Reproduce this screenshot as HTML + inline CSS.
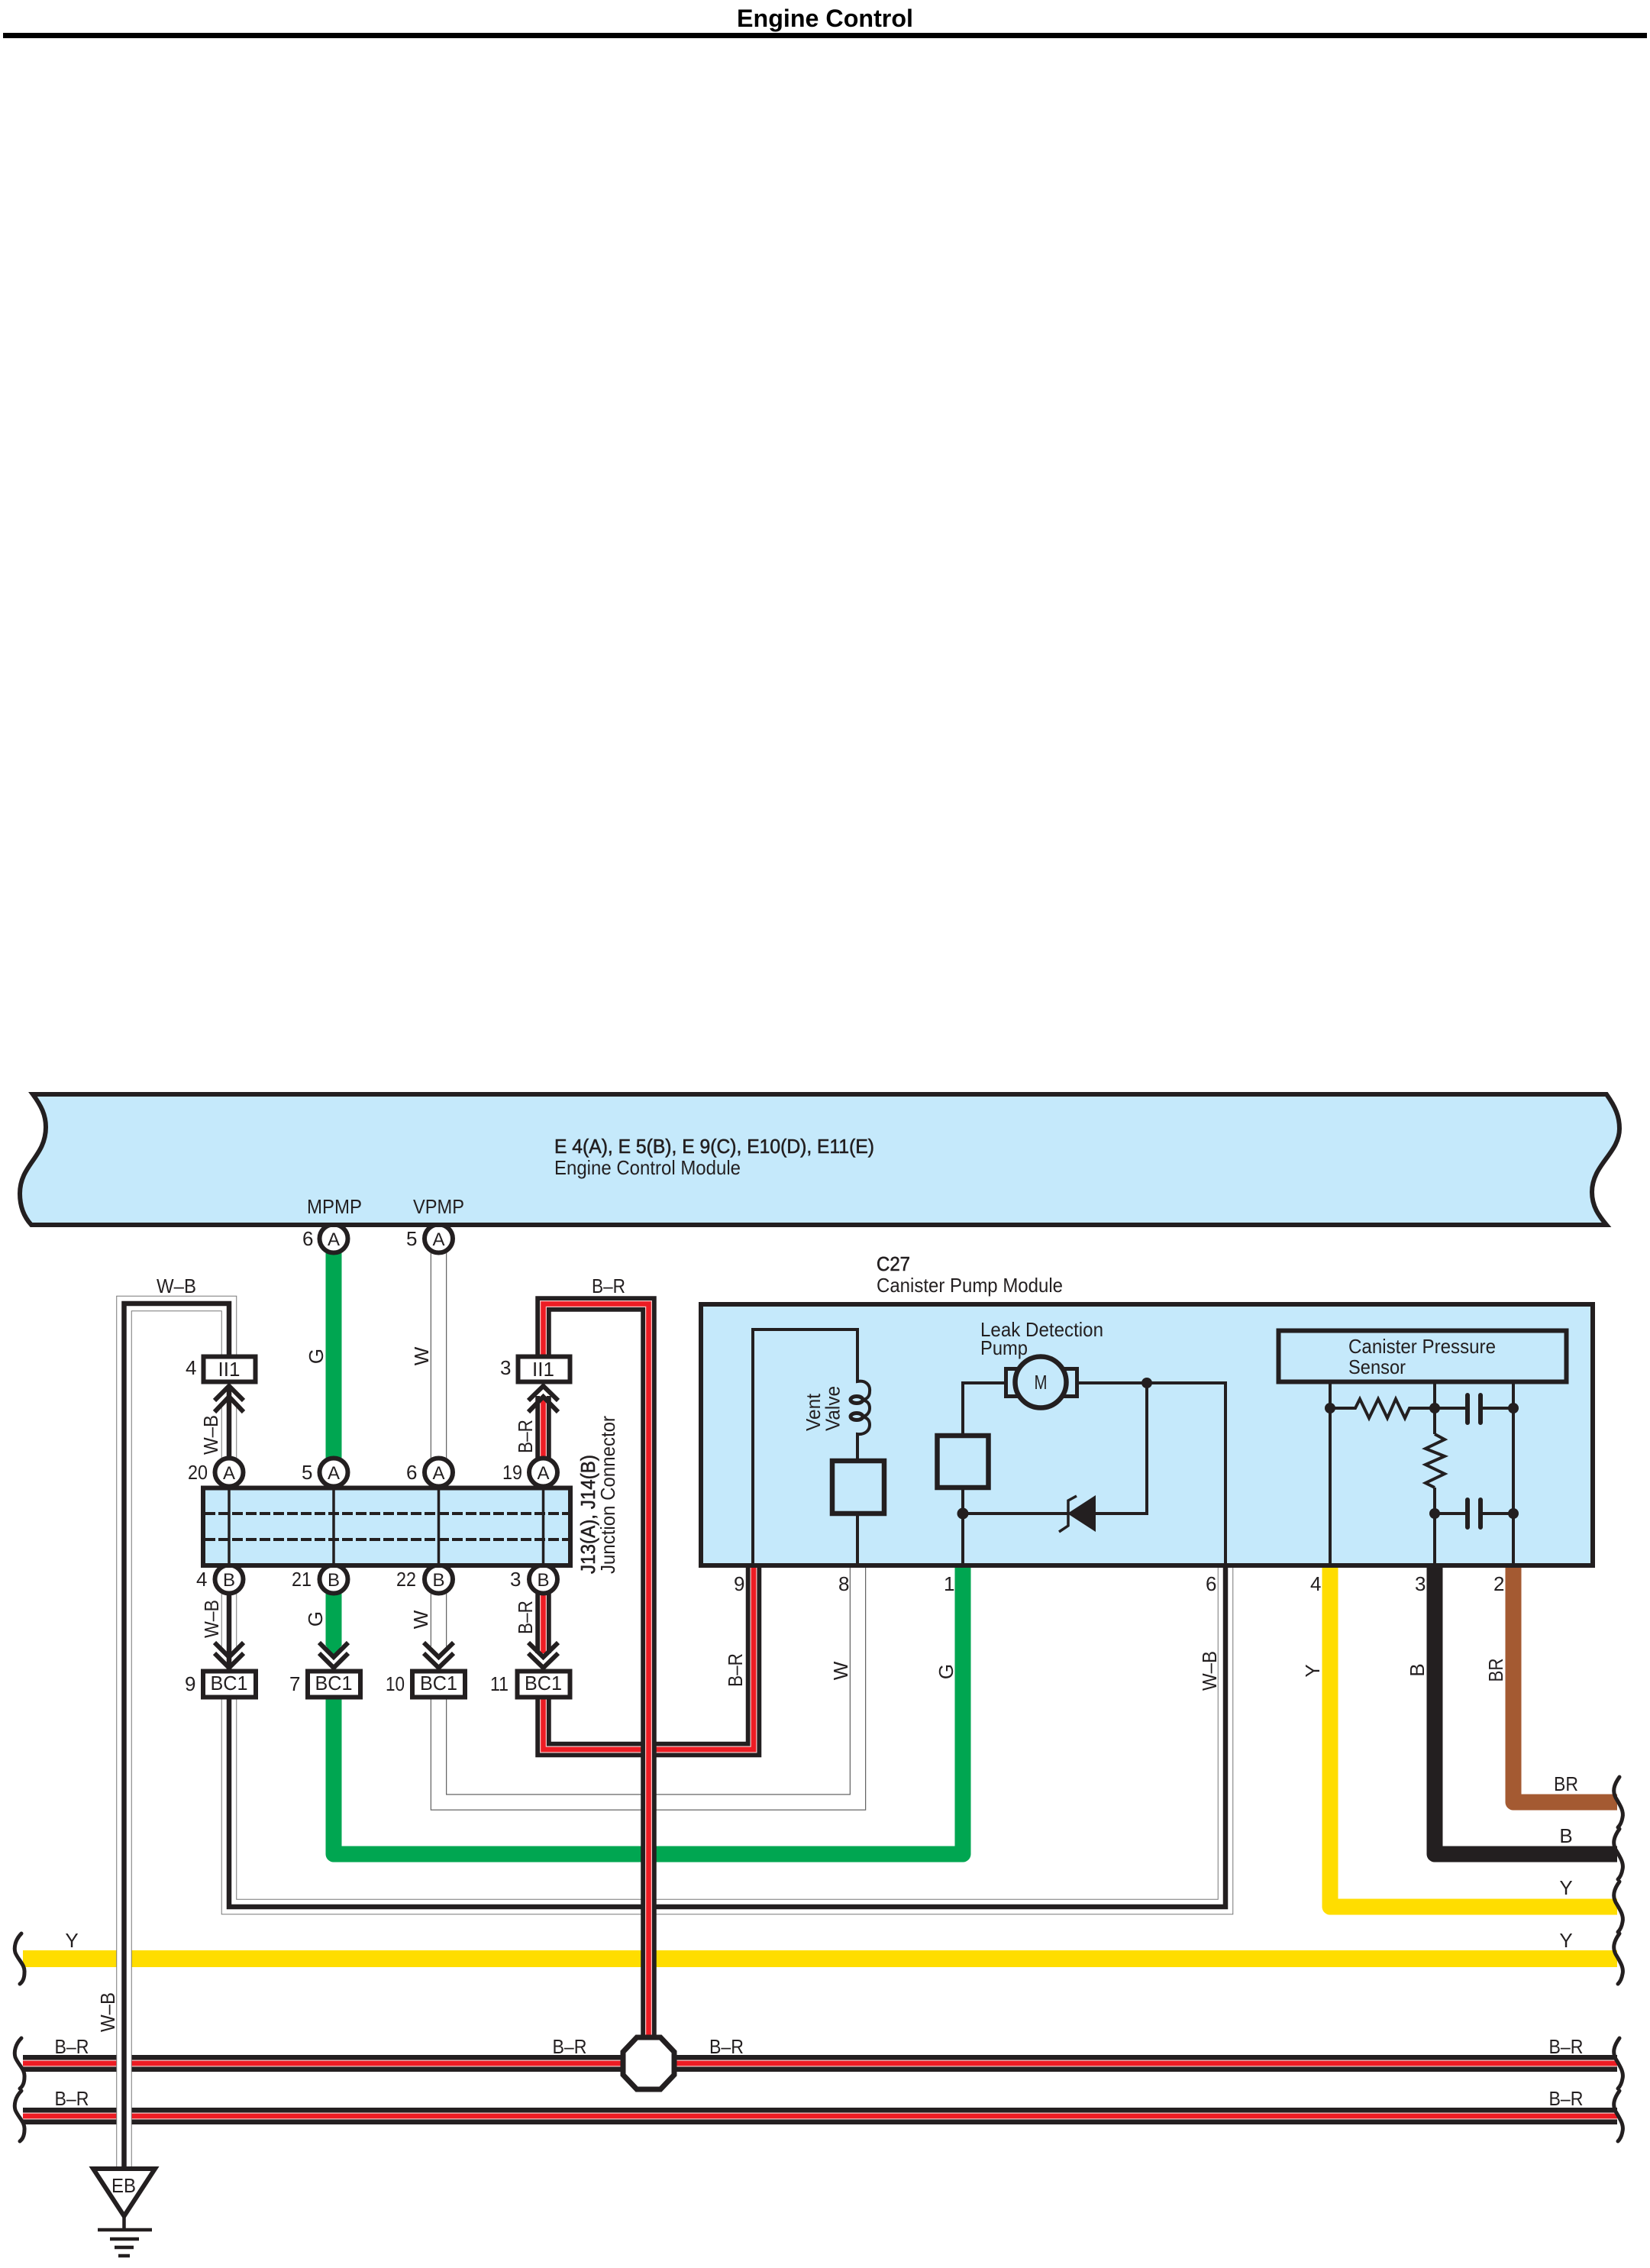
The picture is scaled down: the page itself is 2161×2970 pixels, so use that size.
<!DOCTYPE html>
<html><head><meta charset="utf-8"><title>Engine Control</title>
<style>
html,body{margin:0;padding:0;background:#fff}
svg{display:block}
text{font-family:"Liberation Sans",Arial,sans-serif;font-size:26px;fill:#231f20}
.b{stroke:#231f20;stroke-width:.6px}
.n{fill:none;stroke:#231f20;stroke-miterlimit:10}
.m{text-anchor:middle}
</style></head><body>
<svg xmlns="http://www.w3.org/2000/svg" width="2161" height="2970" viewBox="0 0 2161 2970">
<rect width="2161" height="2970" fill="#fff"/>
<text x="965" y="35" textLength="231" lengthAdjust="spacingAndGlyphs" style="font-size:32px;font-weight:bold;fill:#000">Engine Control</text>
<rect x="4" y="43" width="2153" height="7" fill="#000"/>

<!-- buses -->
<path d="M30 2565H2118" fill="none" stroke="#ffdd00" stroke-width="22"/>
<g fill="none">
<path d="M30 2702H2118" stroke="#231f20" stroke-width="22"/><path d="M30 2702H2118" stroke="#f5c6c6" stroke-width="9"/><path d="M30 2702H2118" stroke="#ed1c24" stroke-width="6.5"/>
<path d="M30 2771H2118" stroke="#231f20" stroke-width="22"/><path d="M30 2771H2118" stroke="#f5c6c6" stroke-width="9"/><path d="M30 2771H2118" stroke="#ed1c24" stroke-width="6.5"/>
</g>
<!-- Sensor wires -->
<g fill="none" stroke-width="21" stroke-linejoin="round">
<path d="M1742 2050V2497H2118" stroke="#ffdd00"/>
<path d="M1879 2050V2428H2118" stroke="#231f20"/>
<path d="M1982 2050V2360H2118" stroke="#a45a32"/>
<!-- Green -->
<path d="M437 1640V1930M437 2066V2155M437 2222V2428H1261V2050" stroke="#00a651"/>
</g>
<polygon points="427,2155 447,2155 437,2170" fill="#00a651"/>
<!-- W -->
<g fill="none" stroke-linejoin="miter">
<path d="M574.5 1640V1930M574.5 2066V2156M574.5 2222V2360H1123.5V2050" stroke="#666" stroke-width="21.5"/>
<path d="M574.5 1630V1940M574.5 2060V2160M574.5 2215V2360H1123.5V2040" stroke="#fff" stroke-width="19"/>
<!-- W-B -->
<path d="M300 2222V2497H1605V2050" stroke="#777" stroke-width="20.5"/>
<path d="M300 2215V2497H1605V2040" stroke="#fff" stroke-width="18.5"/>
<path d="M300 2222V2497H1605V2050" stroke="#231f20" stroke-width="6.5"/>
<path d="M300 2066V2158" stroke="#777" stroke-width="20.5"/>
<path d="M300 2060V2165" stroke="#fff" stroke-width="18.5"/>
<path d="M300 2066V2186" stroke="#231f20" stroke-width="6.5"/>
<path d="M300 1930V1843" stroke="#777" stroke-width="20.5"/>
<path d="M300 1935V1836" stroke="#fff" stroke-width="18.5"/>
<path d="M300 1930V1815" stroke="#231f20" stroke-width="6.5"/>
<path d="M300 1776V1707H162.5V2840" stroke="#777" stroke-width="20.5"/>
<path d="M300 1780V1707H162.5V2840" stroke="#fff" stroke-width="18.5"/>
<path d="M300 1776V1707H162.5V2840" stroke="#231f20" stroke-width="6.5"/>
<!-- B-R -->
<path d="M711.5 1930V1828M711.5 2066V2165M711.5 2222V2291H987V2050" stroke="#231f20" stroke-width="20.5"/>
<path d="M711.5 1930V1828M711.5 2066V2165M711.5 2222V2291H987V2050" stroke="#f5c6c6" stroke-width="9"/>
<path d="M711.5 1930V1828M711.5 2066V2165M711.5 2222V2291H987V2050" stroke="#ed1c24" stroke-width="6.5"/>
<path d="M711.5 1776V1707.5H849.5V2690" stroke="#231f20" stroke-width="20.5"/>
<path d="M711.5 1776V1707.5H849.5V2690" stroke="#f5c6c6" stroke-width="9"/>
<path d="M711.5 1776V1707.5H849.5V2690" stroke="#ed1c24" stroke-width="6.5"/>
</g>
<!-- Octagon -->
<polygon points="834,2668 865,2668 883,2687 883,2717 865,2736 834,2736 816,2717 816,2687" fill="#fff" stroke="#231f20" stroke-width="7"/>

<!-- pins -->
<g fill="#fff" stroke="#231f20" stroke-width="6">
<circle cx="437" cy="1622" r="18.5"/><circle cx="574.5" cy="1622" r="18.5"/>
<circle cx="300" cy="1928" r="18.5"/><circle cx="437" cy="1928" r="18.5"/><circle cx="574.5" cy="1928" r="18.5"/><circle cx="711.5" cy="1928" r="18.5"/>
<circle cx="300" cy="2068" r="18.5"/><circle cx="437" cy="2068" r="18.5"/><circle cx="574.5" cy="2068" r="18.5"/><circle cx="711.5" cy="2068" r="18.5"/>
</g>

<!-- ECM -->
<path d="M43 1433H2104C2116 1450 2121 1462 2121 1478C2121 1510 2085 1525 2085 1561C2085 1580 2094 1592 2104 1604H41C30 1592 26 1578 26 1563C26 1525 60 1515 60 1476C60 1460 54 1448 43 1433Z" fill="#c5e9fb" stroke="#231f20" stroke-width="6" stroke-linejoin="miter"/>

<!-- Junction -->
<rect x="266" y="1948.5" width="481" height="101.5" fill="#c5e9fb" stroke="#231f20" stroke-width="6"/>
<path d="M268 1982H745M268 2016H745" class="n" stroke-width="4" stroke-dasharray="14 4"/>
<path d="M300 1948V2050M437 1948V2050M574.5 1948V2050M711.5 1948V2050" class="n" stroke-width="3.5"/>

<!-- connector boxes -->
<g fill="#fff" stroke="#231f20" stroke-width="6">
<rect x="266.5" y="1776.5" width="68" height="33"/><rect x="678.5" y="1776.5" width="68" height="33"/>
<rect x="266" y="2188.500" width="69" height="34"/><rect x="403" y="2188.500" width="69" height="34"/><rect x="540" y="2188.500" width="69" height="34"/><rect x="677.5" y="2188.500" width="69" height="34"/>
</g>
<!-- chevrons -->
<g class="n" fill="none" stroke-width="6">
<path d="M281 1834L300 1815L319 1834M281 1849L300 1829L319 1849"/>
<path d="M692 1834L711.5 1815L731 1834M692 1849L711.5 1829L731 1849"/>
<path d="M281 2151L300 2170L319 2151M281 2165L300 2184L319 2165"/>
<path d="M418 2151L437 2170L456 2151M418 2165L437 2184L456 2165"/>
<path d="M555 2151L574.5 2170L594 2151M555 2165L574.5 2184L594 2165"/>
<path d="M692 2151L711.5 2170L731 2151M692 2165L711.5 2184L731 2165"/>
</g>

<!-- Module -->
<rect x="918" y="1708" width="1168" height="342" fill="#c5e9fb" stroke="#231f20" stroke-width="6"/>
<g class="n" fill="none" stroke-width="4">
<path d="M986 2050V1741H1123V1809C1134 1807 1140 1814 1139 1822C1139 1829 1135 1833 1128 1833C1136 1834 1139 1838 1139 1844C1139 1850 1135 1855 1128 1855C1136 1856 1139 1860 1139 1866C1139 1873 1133 1879 1123 1878V1912M1123 1983V2050"/>
<path d="M1261 2050V1949M1261 1878V1811H1317M1413 1811H1605V2050M1502 1811V1982H1435M1400 1982H1261"/>
<path d="M1742 1812V2050M1879 1812V1878M1879 1948V2050M1982 1812V2050"/>
<path d="M1742 1844H1775L1781 1832L1793 1857L1805 1832L1817 1857L1828 1832L1840 1857L1846 1844H1922M1940 1844H1982"/>
<path d="M1879 1878L1892 1885L1867 1897L1892 1907L1867 1918L1892 1930L1867 1942L1879 1948"/>
<path d="M1879 1982H1922M1940 1982H1982"/>
</g>
<ellipse cx="1122" cy="1833" rx="8" ry="4.500" fill="none" stroke="#231f20" stroke-width="5"/>
<ellipse cx="1122" cy="1855" rx="8" ry="4.500" fill="none" stroke="#231f20" stroke-width="5"/>
<path d="M1922 1827V1863M1939 1827V1863M1922 1964V2000M1939 1964V2000" class="n" stroke-width="6" stroke-linecap="round"/>
<g fill="#231f20">
<circle cx="1742" cy="1844" r="7"/><circle cx="1879" cy="1844" r="7"/><circle cx="1982" cy="1844" r="7"/>
<circle cx="1879" cy="1982" r="7"/><circle cx="1982" cy="1982" r="7"/>
<circle cx="1502" cy="1811" r="7"/><circle cx="1261" cy="1982" r="7.5"/>
<polygon points="1435,1958 1435,2006 1398,1982"/>
</g>
<path d="M1410 1959L1399 1965V1998L1387 2006" class="n" fill="none" stroke-width="3.5"/>
<rect x="1090" y="1913" width="68" height="69" fill="#c5e9fb" stroke="#231f20" stroke-width="6.5"/>
<rect x="1227.5" y="1880" width="67" height="68" fill="#c5e9fb" stroke="#231f20" stroke-width="6.5"/>
<rect x="1317.5" y="1792.5" width="93" height="36" fill="#c5e9fb" stroke="#231f20" stroke-width="5"/>
<circle cx="1363" cy="1810" r="33.500" fill="#c5e9fb" stroke="#231f20" stroke-width="6.5"/>
<rect x="1674.5" y="1742.5" width="377" height="67" fill="#c5e9fb" stroke="#231f20" stroke-width="6"/>

<!-- EB -->
<polygon points="122,2840 203,2840 162.5,2902" fill="#fff" stroke="#231f20" stroke-width="6"/>
<path d="M162.5 2902V2920M128 2920H199M144 2932H182M150 2943H175M155 2954H170" class="n" stroke-width="4.5"/>

<!-- brackets -->
<g class="n" fill="none" stroke-width="5" stroke-linecap="round">
<path d="M2121 2327C2113 2338 2112 2346 2116 2354C2122 2364 2127 2372 2125 2380C2124 2386 2122 2390 2119 2393"/>
<path d="M2121 2395C2113 2406 2112 2414 2116 2422C2122 2432 2127 2440 2125 2448C2124 2454 2122 2458 2119 2461"/>
<path d="M2121 2464C2113 2475 2112 2483 2116 2491C2122 2501 2127 2509 2125 2517C2124 2523 2122 2527 2119 2530"/>
<path d="M2121 2532C2113 2543 2112 2551 2116 2559C2122 2569 2127 2577 2125 2585C2124 2591 2122 2595 2119 2598"/>
<path d="M2121 2669C2113 2680 2112 2688 2116 2696C2122 2706 2127 2714 2125 2722C2124 2728 2122 2732 2119 2735"/>
<path d="M2121 2738C2113 2749 2112 2757 2116 2765C2122 2775 2127 2783 2125 2791C2124 2797 2122 2801 2119 2804"/>
<path d="M28 2532C20 2540 18 2550 20 2557C24 2567 33 2573 32 2583C32 2590 30 2595 26 2598"/>
<path d="M28 2669C20 2677 18 2687 20 2694C24 2704 33 2710 32 2720C32 2727 30 2732 26 2735"/>
<path d="M28 2738C20 2746 18 2756 20 2763C24 2773 33 2779 32 2789C32 2796 30 2801 26 2804"/>
</g>

<!-- text -->
<text x="726" y="1510" class="b" textLength="419" lengthAdjust="spacingAndGlyphs">E 4(A), E 5(B), E 9(C), E10(D), E11(E)</text>
<text x="726" y="1538" textLength="244" lengthAdjust="spacingAndGlyphs">Engine Control Module</text>
<text x="402" y="1589" textLength="72" lengthAdjust="spacingAndGlyphs">MPMP</text>
<text x="541" y="1589" textLength="67" lengthAdjust="spacingAndGlyphs">VPMP</text>
<text x="396" y="1631">6</text><text x="532" y="1631">5</text>
<text x="437" y="1631" class="m" style="font-size:24px">A</text><text x="574.5" y="1631" class="m" style="font-size:24px">A</text>
<text x="205" y="1693" textLength="52" lengthAdjust="spacingAndGlyphs">W–B</text>
<text x="775" y="1693" textLength="44" lengthAdjust="spacingAndGlyphs">B–R</text>
<text x="243" y="1800">4</text><text x="655" y="1800">3</text>
<text x="300" y="1802" class="m">II1</text><text x="711.5" y="1802" class="m">II1</text>

<text x="246" y="1937" textLength="26" lengthAdjust="spacingAndGlyphs">20</text><text x="395" y="1937">5</text><text x="532" y="1937">6</text><text x="658" y="1937" textLength="26" lengthAdjust="spacingAndGlyphs">19</text>
<text x="300" y="1937" class="m" style="font-size:24px">A</text><text x="437" y="1937" class="m" style="font-size:24px">A</text><text x="574.5" y="1937" class="m" style="font-size:24px">A</text><text x="711.5" y="1937" class="m" style="font-size:24px">A</text>
<text x="300" y="2077" class="m" style="font-size:24px">B</text><text x="437" y="2077" class="m" style="font-size:24px">B</text><text x="574.5" y="2077" class="m" style="font-size:24px">B</text><text x="711.5" y="2077" class="m" style="font-size:24px">B</text>
<text x="257" y="2077">4</text><text x="382" y="2077" textLength="26" lengthAdjust="spacingAndGlyphs">21</text><text x="519" y="2077" textLength="26" lengthAdjust="spacingAndGlyphs">22</text><text x="668" y="2077">3</text>
<text x="242" y="2214">9</text><text x="379" y="2214">7</text><text x="505" y="2214" textLength="25" lengthAdjust="spacingAndGlyphs">10</text><text x="642" y="2214" textLength="24" lengthAdjust="spacingAndGlyphs">11</text>
<text x="300" y="2213" class="m" textLength="49" lengthAdjust="spacingAndGlyphs">BC1</text><text x="437" y="2213" class="m" textLength="49" lengthAdjust="spacingAndGlyphs">BC1</text><text x="574.5" y="2213" class="m" textLength="49" lengthAdjust="spacingAndGlyphs">BC1</text><text x="711.5" y="2213" class="m" textLength="49" lengthAdjust="spacingAndGlyphs">BC1</text>

<text transform="translate(423,1776) rotate(-90)" class="m">G</text>
<text transform="translate(561,1776) rotate(-90)" class="m">W</text>
<text transform="translate(285,1879) rotate(-90)" class="m" textLength="52" lengthAdjust="spacingAndGlyphs">W–B</text>
<text transform="translate(697,1881) rotate(-90)" class="m" textLength="44" lengthAdjust="spacingAndGlyphs">B–R</text>
<text transform="translate(286,2120) rotate(-90)" class="m" textLength="50" lengthAdjust="spacingAndGlyphs">W–B</text>
<text transform="translate(422,2120) rotate(-90)" class="m">G</text>
<text transform="translate(560,2121) rotate(-90)" class="m">W</text>
<text transform="translate(697,2118) rotate(-90)" class="m" textLength="44" lengthAdjust="spacingAndGlyphs">B–R</text>
<text transform="translate(779,2061) rotate(-90)" class="b" textLength="156" lengthAdjust="spacingAndGlyphs">J13(A), J14(B)</text>
<text transform="translate(805,2061) rotate(-90)" textLength="207" lengthAdjust="spacingAndGlyphs">Junction Connector</text>

<text x="1148" y="1664" class="b" textLength="44" lengthAdjust="spacingAndGlyphs">C27</text>
<text x="1148" y="1692" textLength="244" lengthAdjust="spacingAndGlyphs">Canister Pump Module</text>
<text x="1284" y="1750" textLength="161" lengthAdjust="spacingAndGlyphs">Leak Detection</text>
<text x="1284" y="1774" textLength="62" lengthAdjust="spacingAndGlyphs">Pump</text>
<text x="1363" y="1819" class="m" textLength="17" lengthAdjust="spacingAndGlyphs">M</text>
<text transform="translate(1074,1874) rotate(-90)" textLength="49" lengthAdjust="spacingAndGlyphs">Vent</text>
<text transform="translate(1099.5,1874) rotate(-90)" textLength="59" lengthAdjust="spacingAndGlyphs">Valve</text>
<text x="1766" y="1772" textLength="193" lengthAdjust="spacingAndGlyphs">Canister Pressure</text>
<text x="1766" y="1799" textLength="75" lengthAdjust="spacingAndGlyphs">Sensor</text>

<text x="961" y="2083">9</text><text x="1098" y="2083">8</text><text x="1236" y="2083">1</text><text x="1579" y="2083">6</text><text x="1716" y="2083">4</text><text x="1853" y="2083">3</text><text x="1956" y="2083">2</text>
<text transform="translate(972,2187) rotate(-90)" class="m" textLength="44" lengthAdjust="spacingAndGlyphs">B–R</text>
<text transform="translate(1110,2188) rotate(-90)" class="m">W</text>
<text transform="translate(1248,2189) rotate(-90)" class="m">G</text>
<text transform="translate(1593,2188) rotate(-90)" class="m" textLength="52" lengthAdjust="spacingAndGlyphs">W–B</text>
<text transform="translate(1728,2188) rotate(-90)" class="m">Y</text>
<text transform="translate(1865,2187) rotate(-90)" class="m">B</text>
<text transform="translate(1968,2187) rotate(-90)" class="m" textLength="31" lengthAdjust="spacingAndGlyphs">BR</text>
<text x="2051" y="2345" class="m" textLength="32" lengthAdjust="spacingAndGlyphs">BR</text>
<text x="2051" y="2413" class="m">B</text>
<text x="2051" y="2481" class="m">Y</text>
<text x="2051" y="2550" class="m">Y</text>
<text x="2051" y="2689" class="m" textLength="45" lengthAdjust="spacingAndGlyphs">B–R</text>
<text x="2051" y="2757" class="m" textLength="45" lengthAdjust="spacingAndGlyphs">B–R</text>
<text x="94" y="2550" class="m">Y</text>
<text x="94" y="2689" class="m" textLength="45" lengthAdjust="spacingAndGlyphs">B–R</text>
<text x="94" y="2757" class="m" textLength="45" lengthAdjust="spacingAndGlyphs">B–R</text>
<text x="746" y="2689" class="m" textLength="45" lengthAdjust="spacingAndGlyphs">B–R</text>
<text x="951.5" y="2689" class="m" textLength="45" lengthAdjust="spacingAndGlyphs">B–R</text>
<text transform="translate(150,2635) rotate(-90)" class="m" textLength="52" lengthAdjust="spacingAndGlyphs">W–B</text>
<text x="162" y="2871" class="m" textLength="32" lengthAdjust="spacingAndGlyphs">EB</text>
</svg>
</body></html>
